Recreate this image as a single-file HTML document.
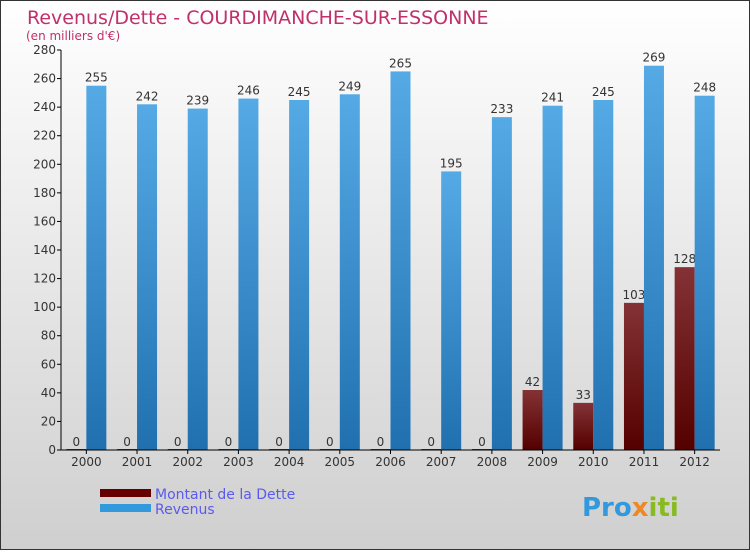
<!DOCTYPE html>
<html><head><meta charset="utf-8"><style>
body{margin:0;}
#wrap{width:750px;height:550px;position:relative;font-family:"DejaVu Sans","Liberation Sans",sans-serif;}
</style></head><body>
<div id="wrap">
<svg id="svg" width="750" height="550" xmlns="http://www.w3.org/2000/svg">
<defs>
<linearGradient id="bg" x1="0" y1="0" x2="0" y2="1"><stop offset="0" stop-color="#ffffff"/><stop offset="1" stop-color="#cfcfcf"/></linearGradient>
<linearGradient id="rev" x1="0" y1="0" x2="0" y2="1"><stop offset="0" stop-color="#55aae5"/><stop offset="1" stop-color="#2070b0"/></linearGradient>
<linearGradient id="debt" x1="0" y1="0" x2="0" y2="1"><stop offset="0" stop-color="#843235"/><stop offset="1" stop-color="#550000"/></linearGradient>
</defs>
<rect x="0.5" y="0.5" width="749" height="549" fill="url(#bg)" stroke="#333"/>
<text x="27" y="24" font-size="19" fill="#c0306a">Revenus/Dette - COURDIMANCHE-SUR-ESSONNE</text>
<text x="26" y="40" font-size="12" fill="#c0306a">(en milliers d'€)</text>
<g id="plot"></g>
<g>
<rect x="100" y="489" width="51" height="8" fill="#660000"/>
<text x="155" y="499" font-size="14" fill="#5a5aee">Montant de la Dette</text>
<rect x="100" y="504" width="51" height="8" fill="#3399dd"/>
<text x="155" y="514" font-size="14" fill="#5a5aee">Revenus</text>
</g>
<text x="582" y="516" font-size="26" font-weight="bold" fill="#3399dd"><tspan fill="#3399dd">Pro</tspan><tspan fill="#ee8822">x</tspan><tspan fill="#88bb22">iti</tspan></text>
</svg>
</div>
<script>
const years=["2000","2001","2002","2003","2004","2005","2006","2007","2008","2009","2010","2011","2012"];
const debt=[0,0,0,0,0,0,0,0,0,42,33,103,128];
const revenue=[255,242,239,246,245,249,265,195,233,241,245,269,248];
const yTicks=[0,20,40,60,80,100,120,140,160,180,200,220,240,260,280];
const NS="http://www.w3.org/2000/svg";
const g=document.getElementById('plot');
const x0=61,x1=720,yTop=50,yBot=450,yMax=280;
const step=(x1-x0)/years.length;
function y(v){return yBot-(v/yMax)*(yBot-yTop);}
function cx(i){return x0+step*(i+0.5);}
function mk(tag,attrs,txt){const e=document.createElementNS(NS,tag);for(const k in attrs)e.setAttribute(k,attrs[k]);if(txt!==undefined)e.textContent=txt;g.appendChild(e);return e;}
yTicks.forEach(t=>{
 const l=mk('line',{x1:x0-4,x2:x0,y1:y(t),y2:y(t),stroke:'#000'});
 
 
 const tx=mk('text',{x:x0-5,y:y(t)+4,'text-anchor':'end','font-size':'12',fill:'#333'},t);
 
 
});
years.forEach((yr,i)=>{
 const c=cx(i);
 const hd=Math.max(y(0)-y(debt[i]),1);
 const b1=mk('rect',{x:c-20,y:y(0)-hd,width:20,height:hd,fill:'url(#debt)'});
 
 
 const t1=mk('text',{x:c-10,y:y(debt[i])-4,'text-anchor':'middle','font-size':'12',fill:'#333'},debt[i]);
 
 
 const b2=mk('rect',{x:c,y:y(revenue[i]),width:20,height:y(0)-y(revenue[i]),fill:'url(#rev)'});
 
 
 const t2=mk('text',{x:c+10,y:y(revenue[i])-4,'text-anchor':'middle','font-size':'12',fill:'#333'},revenue[i]);
 
 
 const tk=mk('line',{x1:c,x2:c,y1:yBot,y2:yBot+4,stroke:'#000'});
 
 
 const xl=mk('text',{x:c,y:yBot+16,'text-anchor':'middle','font-size':'12',fill:'#333'},yr);
 
 
});
const ya=mk('line',{x1:x0,x2:x0,y1:yTop,y2:yBot,stroke:'#000'});


const xa=mk('line',{x1:x0,x2:x1,y1:yBot,y2:yBot,stroke:'#000'});


</script>
</body></html>
